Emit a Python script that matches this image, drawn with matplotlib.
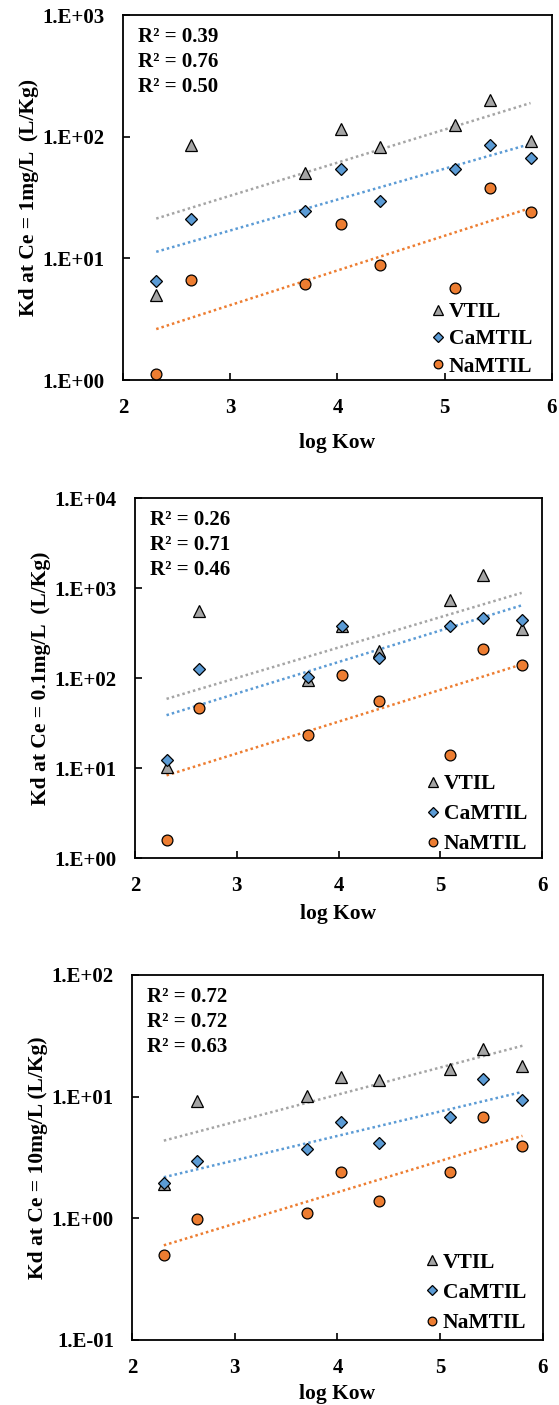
import numpy as np
import matplotlib.pyplot as plt
from matplotlib.ticker import FuncFormatter, FixedLocator

plt.rcParams['font.family'] = ['Liberation Serif', 'DejaVu Serif']
plt.rcParams['font.weight'] = 'bold'

# log Kow of the eight compounds
log_kow = [2.31, 2.63, 3.70, 4.03, 4.40, 5.10, 5.42, 5.80]

# Kd at Ce = 1 mg/L
vtil_1 = [5.0, 86, 50, 116, 82, 124, 200, 93]
camtil_1 = [6.5, 21, 24.6, 54, 29.7, 54, 85, 67]
namtil_1 = [1.13, 6.7, 6.1, 19, 8.8, 5.7, 38, 24]

# Kd at Ce = 0.1 mg/L
vtil_01 = [10.3, 561, 96, 383, 202, 736, 1380, 349]
camtil_01 = [12.3, 127, 103, 383, 168, 383, 470, 439]
namtil_01 = [1.58, 46, 23.4, 108, 55, 13.8, 209, 141]

# Kd at Ce = 10 mg/L
vtil_10 = [1.93, 9.2, 10.2, 14.6, 13.8, 16.8, 24.7, 18.0]
camtil_10 = [1.96, 2.98, 3.71, 6.2, 4.16, 6.84, 13.9, 9.3]
namtil_10 = [0.50, 0.98, 1.11, 2.39, 1.39, 2.39, 6.84, 3.93]

names = ['VTIL', 'CaMTIL', 'NaMTIL']
r2_1 = ['0.39', '0.76', '0.50']
r2_01 = ['0.26', '0.71', '0.46']
r2_10 = ['0.72', '0.72', '0.63']

markers = ['^', 'D', 'o']
sizes = [8.5, 6.5, 7.8]
colors = ['#a5a5a5', '#5b9bd5', '#ed7d31']

# axes rect, data, R², y range, y label, x-label pad, legend anchor, legend spacing
panels = [
    ([0.2200, 0.7295, 0.7674, 0.2598], [vtil_1, camtil_1, namtil_1], r2_1,
     (1, 1e3), 'Kd at Ce = 1mg/L  (L/Kg)', 11, (0.974, -0.014), 0.33),
    ([0.2415, 0.3893, 0.7281, 0.2562], [vtil_01, camtil_01, namtil_01], r2_01,
     (1, 1e4), 'Kd at Ce = 0.1mg/L  (L/Kg)', 6, (0.985, -0.014), 0.47),
    ([0.2361, 0.0463, 0.7352, 0.2598], [vtil_10, camtil_10, namtil_10], r2_10,
     (0.1, 1e2), 'Kd at Ce = 10mg/L (L/Kg)', 4, (0.981, -0.005), 0.47),
]

fig = plt.figure(figsize=(5.59, 14.05), dpi=100)
x = np.array(log_kow)

for rect, series, r2, ylim, ylabel, xpad, anchor, lspace in panels:
    ax = fig.add_axes(rect)
    for ys, name, m, ms, c in zip(series, names, markers, sizes, colors):
        ys = np.array(ys)
        ax.plot(x, ys, linestyle='none', marker=m, markersize=ms,
                markerfacecolor=c, markeredgecolor='black', markeredgewidth=0.9,
                label=name, zorder=3)
        # exponential trendline: straight line in log space
        slope, icpt = np.polyfit(x, np.log(ys), 1)
        xf = np.linspace(x.min(), x.max(), 50)
        ax.plot(xf, np.exp(icpt + slope * xf), color=c, linestyle=(0, (1, 1.2)),
                linewidth=1.8, zorder=2)

    ax.set_yscale('log')
    ax.set_xlim(2, 6)
    ax.set_ylim(*ylim)
    lo, hi = int(np.log10(ylim[0])), int(np.log10(ylim[1]))
    ax.yaxis.set_major_locator(FixedLocator([10.0 ** k for k in range(lo, hi + 1)]))
    ax.yaxis.set_minor_locator(FixedLocator([]))
    ax.yaxis.set_major_formatter(
        FuncFormatter(lambda v, p: f"1.E{int(round(np.log10(v))):+03d}"))
    ax.set_xticks([2, 3, 4, 5, 6])
    ax.tick_params(direction='in', length=5, width=1.2, labelsize=15, pad=13)
    for s in ax.spines.values():
        s.set_linewidth(1.3)

    ax.set_xlabel('log Kow', fontsize=15.5, fontweight='bold', labelpad=xpad)
    ax.set_ylabel(ylabel, fontsize=15.5, fontweight='bold', labelpad=3)

    for i, v in enumerate(r2):
        ax.annotate(f'R² = {v}', xy=(0, 1), xycoords='axes fraction',
                    xytext=(10.5, -16 - 18 * i), textcoords='offset points',
                    fontsize=15, fontweight='bold', ha='left', va='center')

    ax.legend(loc='lower right', bbox_to_anchor=anchor, frameon=False,
              handlelength=0.8, handletextpad=0.1, labelspacing=lspace,
              borderaxespad=0, markerscale=0.8,
              prop={'size': 15.5, 'weight': 'bold'})

fig.savefig('out.png', dpi=100)
